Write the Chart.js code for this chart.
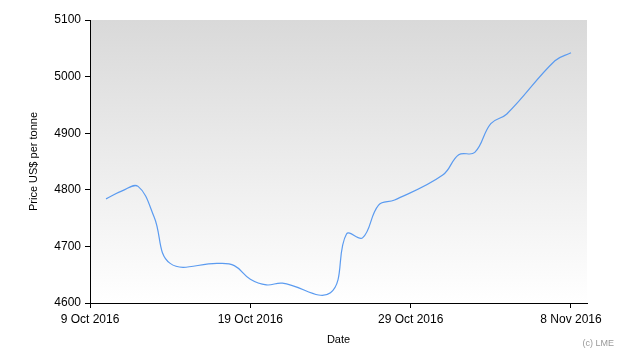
<!DOCTYPE html>
<html>
<head>
<meta charset="utf-8">
<script src="https://cdn.jsdelivr.net/npm/chart.js@4/dist/chart.umd.min.js"></script>
<style>
  body { margin: 0; background: #fff; }
  #wrap { width: 630px; height: 360px; position: relative; }
</style>
</head>
<body>
<div id="wrap"><canvas id="chart"></canvas></div>
<script>
// trading days and LME prices (US$ per tonne)
const dates = ["2016-10-10", "2016-10-11", "2016-10-12", "2016-10-13", "2016-10-14",
  "2016-10-17", "2016-10-18", "2016-10-19", "2016-10-20", "2016-10-21",
  "2016-10-24", "2016-10-25", "2016-10-26", "2016-10-27", "2016-10-28",
  "2016-10-31", "2016-11-01", "2016-11-02", "2016-11-03", "2016-11-04",
  "2016-11-07", "2016-11-08"];
const prices = [4784, 4798, 4806, 4752, 4670,
  4670, 4666, 4642, 4632, 4635,
  4618, 4722, 4715, 4773, 4782,
  4826, 4862, 4866, 4917, 4934,
  5028, 5042];
const tickDates = ["2016-10-09", "2016-10-19", "2016-10-29", "2016-11-08"];
const tickLabels = ["9 Oct 2016", "19 Oct 2016", "29 Oct 2016", "8 Nov 2016"];

const origin = Date.UTC(2016, 9, 9);
function dayNum(s) {
  const p = s.split("-");
  return (Date.UTC(+p[0], +p[1] - 1, +p[2]) - origin) / 86400000;
}
const points = dates.map((d, i) => ({ x: dayNum(d), y: prices[i] }));
const tickPos = tickDates.map(dayNum);

Chart.defaults.font.family = "'Liberation Sans', Arial, sans-serif";
Chart.defaults.color = "#000";

// grey-to-white gradient behind the plot
const bgPlugin = {
  id: "bg",
  beforeDraw(chart) {
    const { ctx, chartArea: a } = chart;
    const g = ctx.createLinearGradient(0, a.top, 0, a.bottom);
    g.addColorStop(0, "#d9d9d9");
    g.addColorStop(1, "#ffffff");
    ctx.save();
    ctx.fillStyle = g;
    ctx.fillRect(a.left, a.top, a.right - a.left, a.bottom - a.top);
    ctx.restore();
  },
  afterDraw(chart) {
    const ctx = chart.ctx;
    ctx.save();
    ctx.font = "9px 'Liberation Sans', Arial, sans-serif";
    ctx.fillStyle = "#999";
    ctx.textAlign = "right";
    ctx.textBaseline = "middle";
    ctx.fillText("(c) LME", 614, 344);
    ctx.restore();
  }
};

new Chart(document.getElementById("chart"), {
  type: "line",
  data: {
    datasets: [{
      data: points,
      borderColor: "#5b9bf0",
      borderWidth: 1.2,
      pointRadius: 0,
      tension: 0.4,
      fill: false
    }]
  },
  options: {
    responsive: true,
    maintainAspectRatio: false,
    animation: false,
    layout: { padding: { top: 20, right: 43, left: 0, bottom: 0 } },
    plugins: { legend: { display: false }, tooltip: { enabled: false } },
    scales: {
      x: {
        type: "linear",
        min: 0,
        max: 31,
        afterBuildTicks(scale) { scale.ticks = tickPos.map(v => ({ value: v })); },
        afterFit(scale) { scale.height = 57; },
        ticks: {
          autoSkip: false,
          maxRotation: 0,
          padding: 4,
          font: { size: 12 },
          callback: (v) => tickLabels[tickPos.indexOf(v)]
        },
        grid: { drawOnChartArea: false, drawTicks: true, tickLength: 5, color: "#000" },
        border: { display: true, color: "#000", width: 1 },
        title: { display: true, text: "Date", font: { size: 11 }, padding: { top: 0, bottom: 13 } }
      },
      y: {
        min: 4600,
        max: 5100,
        afterFit(scale) { scale.width = 90; },
        ticks: { stepSize: 100, padding: 4, font: { size: 12 }, callback: (v) => String(v) },
        grid: { drawOnChartArea: false, drawTicks: true, tickLength: 5, color: "#000" },
        border: { display: true, color: "#000", width: 1 },
        title: { display: true, text: "Price US$ per tonne", font: { size: 11 }, padding: { top: 27, bottom: 0 } }
      }
    }
  },
  plugins: [bgPlugin]
});
</script>
</body>
</html>
